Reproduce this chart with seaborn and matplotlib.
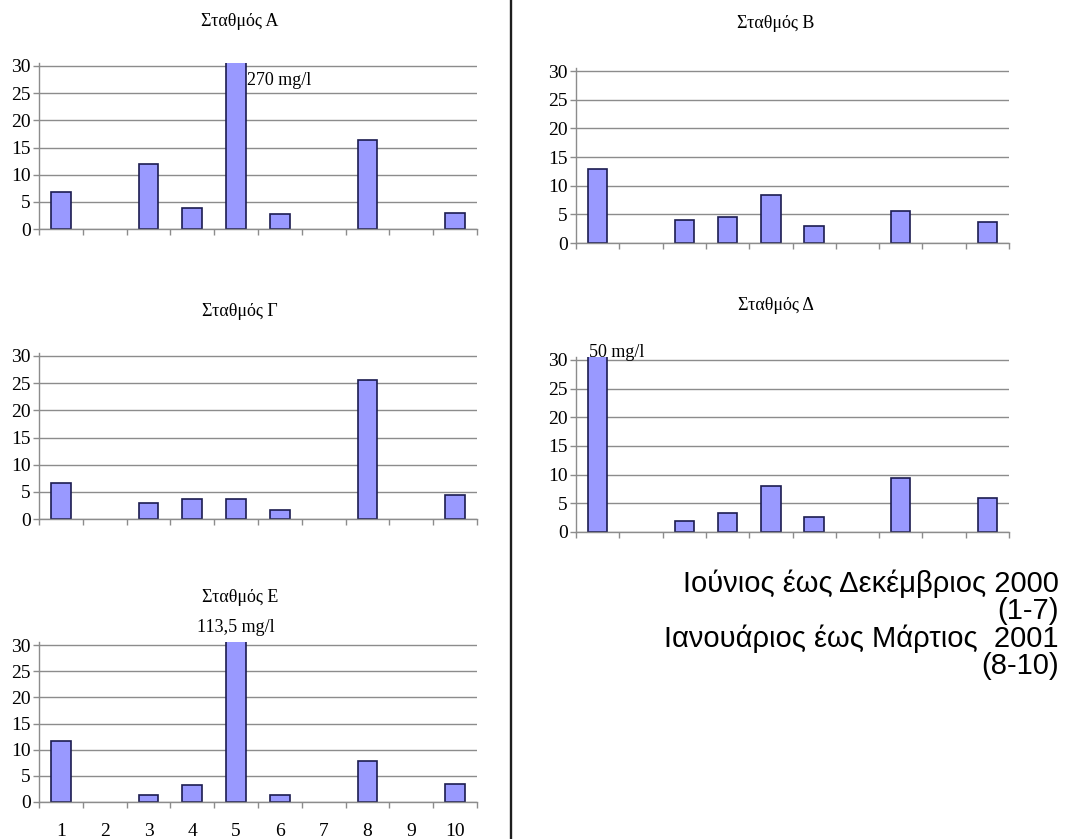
import numpy as np
import pandas as pd
import matplotlib
matplotlib.use("Agg")
import matplotlib.pyplot as plt
from matplotlib.lines import Line2D
from matplotlib.ticker import FixedLocator
import seaborn as sns

# Monthly measurements per station (months 1-7: Jun-Dec 2000, 8-10: Jan-Mar 2001)
months = ["1", "2", "3", "4", "5", "6", "7", "8", "9", "10"]
station_A = [6.9, np.nan, 11.9, 3.9, 270.0, 2.8, np.nan, 16.4, np.nan, 3.0]
station_B = [12.9, np.nan, 4.0, 4.6, 8.3, 3.0, np.nan, 5.5, np.nan, 3.7]
station_G = [6.7, np.nan, 2.9, 3.7, 3.7, 1.6, np.nan, 25.5, np.nan, 4.4]
station_D = [50.0, np.nan, 2.0, 3.3, 8.1, 2.6, np.nan, 9.4, np.nan, 5.9]
station_E = [11.7, np.nan, 1.3, 3.3, 113.5, 1.3, np.nan, 7.9, np.nan, 3.5]
titles = ["Σταθμός Α", "Σταθμός Β", "Σταθμός Γ", "Σταθμός Δ", "Σταθμός Ε"]
y_ticks = [0, 5, 10, 15, 20, 25, 30]
period_lines = ["Ιούνιος έως Δεκέμβριος 2000", "(1-7)",
                "Ιανουάριος έως Μάρτιος  2001", "(8-10)"]

sns.set_style("white")
plt.rcParams["font.family"] = ["Liberation Serif", "DejaVu Serif"]
plt.rcParams["text.color"] = "black"

W, H = 1066, 839
fig = plt.figure(figsize=(W / 100, H / 100), dpi=100)
fig.patch.set_facecolor("white")

Y_TOP = 30.5
BAR_FACE = "#9999FF"
BAR_EDGE = "#1c1c50"
GRID = "#8c8c8c"


def px_axes(left, right, y0, y30):
    unit = (y0 - y30) / 30.0
    top = y0 - Y_TOP * unit
    return fig.add_axes([left / W, 1 - y0 / H, (right - left) / W, (y0 - top) / H])


def draw_station(ax, values, show_xlabels=False):
    df = pd.DataFrame({"month": months, "value": values}).dropna()
    sns.barplot(data=df, x="month", y="value", order=months, ax=ax,
                color=BAR_FACE, edgecolor=BAR_EDGE, linewidth=1.2,
                width=0.45, saturation=1, errorbar=None)
    ax.set_xlim(-0.5, len(months) - 0.5)
    ax.set_ylim(0, Y_TOP)
    ax.set_yticks(y_ticks)
    ax.set_xlabel("")
    ax.set_ylabel("")
    ax.yaxis.grid(True, color=GRID, linewidth=1.0)
    ax.set_axisbelow(True)
    for side in ("top", "right"):
        ax.spines[side].set_visible(False)
    for side in ("left", "bottom"):
        ax.spines[side].set_color(GRID)
        ax.spines[side].set_linewidth(1.0)
    ax.xaxis.set_minor_locator(FixedLocator(np.arange(-0.5, len(months), 1.0)))
    ax.tick_params(axis="x", which="major", bottom=True, length=0, pad=15,
                   labelsize=14, labelcolor="black", labelbottom=show_xlabels)
    ax.tick_params(axis="x", which="minor", bottom=True, length=4, width=1,
                   color=GRID, direction="out")
    ax.tick_params(axis="y", left=True, length=4, width=1, color=GRID,
                   direction="out", pad=2, labelsize=14, labelcolor="black")
    ax.patch.set_alpha(0)


def value_label(v):
    return f"{v:g}".replace(".", ",") + " mg/l"


# Left column: A, Γ, Ε ; right column: B, Δ
ax_A = px_axes(39, 477, 229, 66)
ax_B = px_axes(576, 1009, 243, 71)
ax_G = px_axes(39, 477, 519, 356)
ax_D = px_axes(576, 1009, 532, 360)
ax_E = px_axes(39, 477, 802, 645)

draw_station(ax_A, station_A)
draw_station(ax_B, station_B)
draw_station(ax_G, station_G)
draw_station(ax_D, station_D)
draw_station(ax_E, station_E, show_xlabels=True)

# Titles
title_pos = [(240, 21), (776, 23), (240, 311), (776, 306), (240, 598)]
for t, (px, py) in zip(titles, title_pos):
    fig.text(px / W, 1 - py / H, t, ha="center", va="center", fontsize=13)

# Labels for the bars that run off the 0-30 scale
ax_A.text(4.25, 27.4, value_label(station_A[4]), ha="left", va="center",
          fontsize=13, clip_on=False)
ax_D.text(0.43, 31.3, value_label(station_D[0]), ha="center", va="center",
          fontsize=13, clip_on=False)
ax_E.text(4.0, 33.4, value_label(station_E[4]), ha="center", va="center",
          fontsize=13, clip_on=False)

# Vertical divider between the two columns
fig.add_artist(Line2D([511 / W, 511 / W], [0, 1], transform=fig.transFigure,
                      color="#1e1e1e", linewidth=1.7))

# Period legend text
fig.text(1059 / W, 1 - 570 / H, "\n".join(period_lines), ha="right", va="top",
         multialignment="right", fontsize=21, linespacing=0.95, color="black",
         family=["Liberation Sans", "DejaVu Sans"])

fig.savefig("out.png", dpi=100, facecolor="white")
